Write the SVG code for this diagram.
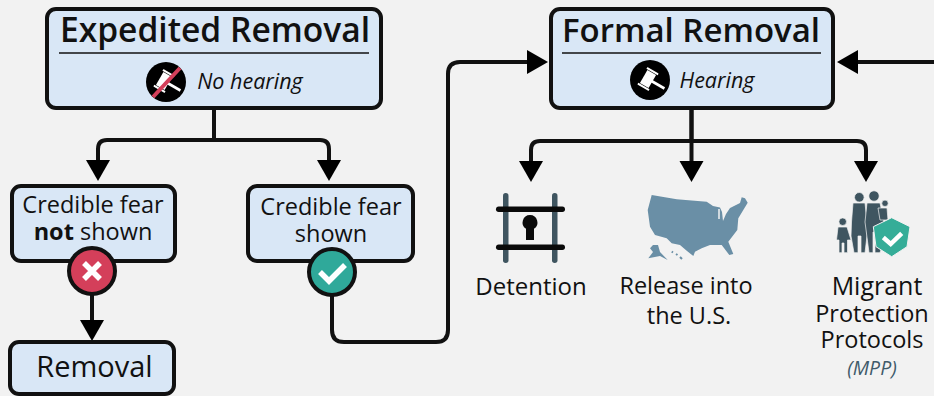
<svg xmlns="http://www.w3.org/2000/svg" width="934" height="396" viewBox="0 0 934 396">
<style>
text{font-family:"Open Sans","Noto Sans","Liberation Sans",sans-serif;fill:#111;text-anchor:middle}
.box{fill:#d9e7f6;stroke:#111;stroke-width:4}
.t{font-size:33px;font-weight:600}
.b{font-size:23.5px}
.l{font-size:23.5px}
.i{font-size:21.500px;font-style:italic}
.c{fill:none;stroke:#111;stroke-width:4}
.rule{stroke:#111;stroke-width:1.6}
.gray{fill:#3f5560}
.fig{fill:#3f5560;stroke:#f2f2f2;stroke-width:.7}
.us{fill:#6a8fa6}
</style>
<defs>
<marker id="ah" markerUnits="userSpaceOnUse" markerWidth="24" markerHeight="26" refX="2" refY="13" orient="auto"><path d="M0 1L21 13L0 25Z" fill="#000"/></marker>
<g id="gavel" fill="#fff" transform="rotate(0)">
<g transform="translate(-2 -1) rotate(30)">
<rect x="-5" y="-7.500" width="10" height="15"/>
<rect x="-6.500" y="-10" width="13" height="2" rx=".5"/>
<rect x="-6.500" y="8" width="13" height="2" rx=".5"/>
<rect x="4" y="-1.300" width="15" height="2.600"/>
</g>
</g>
</defs>
<rect width="934" height="396" fill="#f2f2f2"/>
<g id="connectors">
<path class="c" d="M214 108V140H107Q98 140 98 149V162" marker-end="url(#ah)"/>
<path class="c" d="M214 140H320Q329 140 329 149V162" marker-end="url(#ah)"/>
<path class="c" d="M92 290V322" marker-end="url(#ah)"/>
<path class="c" d="M332 290V330Q332 342 344 342H436Q448 342 448 330V74Q448 62 460 62H529" marker-end="url(#ah)"/>
<path class="c" d="M934 62H856" marker-end="url(#ah)"/>
<path class="c" d="M691.500 108V141H540Q531 141 531 150V163" marker-end="url(#ah)"/>
<path class="c" d="M691.500 108V163" marker-end="url(#ah)"/>
<path class="c" d="M691.500 141H857Q866 141 866 150V163" marker-end="url(#ah)"/>
</g>
<g id="expedited-removal">
<rect class="box" x="47" y="9" width="334" height="99" rx="9"/>
<text class="t" x="215" y="42" style="font-size:33.600px">Expedited Removal</text>
<line class="rule" x1="59" y1="53" x2="369" y2="53"/>
<circle cx="166" cy="82" r="20" fill="#000"/>
<use href="#gavel" x="166" y="82"/>
<line x1="153" y1="97" x2="180" y2="68" stroke="#d43f5a" stroke-width="4"/>
<text class="i" x="250" y="89">No hearing</text>
</g>
<g id="formal-removal">
<rect class="box" x="551" y="9" width="282" height="99" rx="9"/>
<text class="t" x="691" y="42">Formal Removal</text>
<line class="rule" x1="562" y1="53" x2="821" y2="53"/>
<circle cx="650" cy="80" r="20" fill="#000"/>
<use href="#gavel" x="650" y="80"/>
<text class="i" x="717" y="88">Hearing</text>
</g>
<g id="not-shown">
<rect class="box" x="12" y="186" width="163" height="75" rx="9"/>
<text class="b" x="93" y="213">Credible fear</text>
<text class="b" x="93" y="240"><tspan font-weight="700">not</tspan> shown</text>
<circle cx="92" cy="271" r="23" fill="#d43f5a" stroke="#111" stroke-width="4"/>
<path d="M84 263L100 279M100 263L84 279" stroke="#fff" stroke-width="5.500" fill="none"/>
</g>
<g id="shown">
<rect class="box" x="248" y="186" width="165" height="75" rx="9"/>
<text class="b" x="331" y="215">Credible fear</text>
<text class="b" x="331" y="242">shown</text>
<circle cx="332" cy="272" r="23" fill="#2fa99a" stroke="#111" stroke-width="4"/>
<path d="M320 272L329 281L345 265" stroke="#fff" stroke-width="5.500" fill="none"/>
</g>
<g id="removal">
<rect class="box" x="10" y="342" width="164" height="52" rx="9"/>
<text x="94.500" y="377" font-size="29">Removal</text>
</g>
<g id="detention">
<rect class="gray" x="503" y="193" width="5.500" height="70" rx="2.700"/>
<rect class="gray" x="552" y="193" width="5.500" height="70" rx="2.700"/>
<rect x="496" y="206.500" width="69" height="5.500" rx="2.700" fill="#0a0a0a"/>
<rect x="496" y="244.500" width="69" height="5.500" rx="2.700" fill="#0a0a0a"/>
<path d="M530 215a7.500 7.500 0 0 1 4 13.800V240H526V228.800a7.500 7.500 0 0 1 4-13.800Z" fill="#0a0a0a"/>
<text x="531" y="295" font-size="24">Detention</text>
</g>
<g id="release">
<path class="us" d="M651.700 195L676.700 199.300L706.700 201.700L713 206L720 207.500L722 212L723 221L726 214L730 208L740 203L741.700 197.300L745 198.300L747.700 202.700L743.300 210L738.300 218.300L737.300 230L728.300 241.700L733.300 254L729.300 255L721.700 245L710 245L701.700 248.300L695 251.700L693.300 256L686.700 250.700L680 245L671.700 243.300L666.700 238.300L655 235L650 226.700L647.700 210Z"/>
<path d="M719 209L719 219" stroke="#f2f2f2" stroke-width="1.500" fill="none"/>
<path class="us" d="M653 245L658 245L660 252L667.700 260L660 256L648.300 258.300L653 252L650 248.300Z"/>
<path d="M671.700 251.700L673 252.500M676 254L677.500 255M680 257L682 259" stroke="#6a8fa6" stroke-width="2" fill="none"/>
<text class="l" x="686" y="294">Release into</text>
<text class="l" x="689" y="324">the U.S.</text>
</g>
<g id="mpp">
<circle class="fig" cx="842.700" cy="221.700" r="3.800"/>
<path class="fig" d="M838 227H847L851 240L847.500 240V252.700H844V243H842V252.700H839V240L836.500 240Z"/>
<circle class="fig" cx="859.300" cy="197.300" r="4.800"/>
<path class="fig" d="M853 203H865L867 222V236L865 252.700H861V236H858V252.700H854L851 236L851.500 222Z"/>
<circle class="fig" cx="874" cy="196" r="5.200"/>
<path class="fig" d="M867 203H880L884 222V240L880 252.700H875V232H873V252.700H869L865 222Z"/>
<circle class="fig" cx="885" cy="203.300" r="3.200"/>
<path class="fig" d="M878 208H887L888 220H880Z"/>
<path d="M891.700 217.700L910 226.700L907 246.700L891.700 256.700L876 246.700L873.300 226.700Z" fill="#35ad98" stroke="#f2f2f2" stroke-width="1" stroke-linejoin="round"/>
<path d="M883.300 237.500L890.700 244L901.700 233.300" stroke="#fff" stroke-width="4.500" fill="none"/>
<text x="877" y="295" font-size="25">Migrant</text>
<text class="l" x="872" y="322">Protection</text>
<text class="l" x="872" y="348">Protocols</text>
<text x="872" y="375" font-size="19.500" font-style="italic" style="fill:#3f5a6a">(MPP)</text>
</g>
</svg>
